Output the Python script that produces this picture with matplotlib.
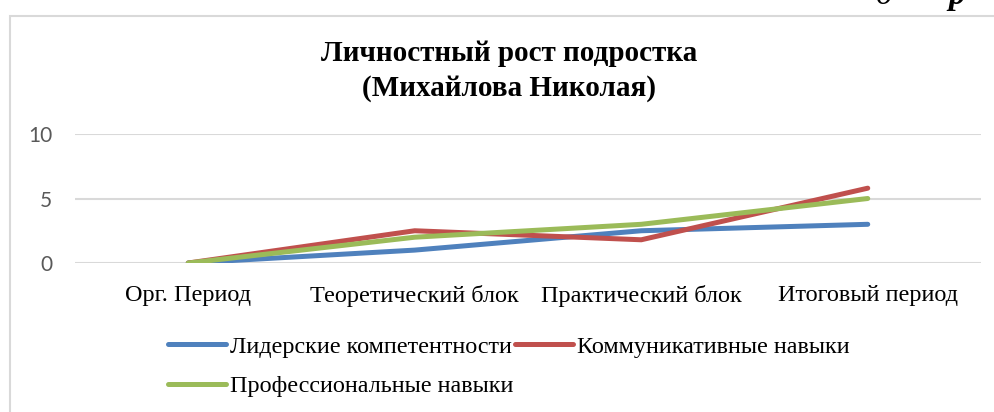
import numpy as np
import matplotlib
matplotlib.use('Agg')
import matplotlib.pyplot as plt
from matplotlib.patches import Rectangle

# данные
kategorii = ['Орг. Период', 'Теоретический блок', 'Практический блок', 'Итоговый период']
liderskie = [0, 1, 2.5, 3]
kommunikativnye = [0, 2.5, 1.8, 5.8]
professionalnye = [0, 2, 3, 5]
serie = ['Лидерские компетентности', 'Коммуникативные навыки', 'Профессиональные навыки']
kolory = ['#4f81bd', '#c0504d', '#9bbb59']
y_ticks = [0, 5, 10]

W, H = 995, 412
fig = plt.figure(figsize=(W/100, H/100), dpi=100)

# ramka wykresu (wychodzi poza prawa i dolna krawedz)
fig.patches.append(Rectangle((10/W, -0.2), 1.5, 1.2 - 16/H, transform=fig.transFigure,
                             fill=False, edgecolor='#d9d9d9', linewidth=1.5, clip_on=False))

ax = fig.add_axes([75/W, 1 - 263/H, 906/W, 129/H])
x = np.arange(len(kategorii))
linie = []
for vals, c, lab in zip([liderskie, kommunikativnye, professionalnye], kolory, serie):
    l, = ax.plot(x, vals, color=c, lw=3.6, solid_capstyle='round', solid_joinstyle='round',
                 label=lab, zorder=3)
    linie.append(l)

ax.set_xlim(-0.5, len(kategorii) - 0.5)
ax.set_ylim(0, 10)
ax.set_yticks(y_ticks)
ax.set_yticklabels([str(t) for t in y_ticks], fontsize=15, color='#595959', family='Lato')
ax.set_xticks(x)
ax.set_xticklabels(kategorii, fontsize=17.5, family='Liberation Serif', color='black')
ax.tick_params(axis='both', length=0)
ax.tick_params(axis='y', pad=16.5)
ax.tick_params(axis='x', pad=16)
ax.grid(axis='y', color='#d9d9d9', lw=1.5, zorder=0)
for s in ax.spines.values():
    s.set_visible(False)

fig.text(509/W, 1 - 71/H, 'Личностный рост подростка\n(Михайлова Николая)', ha='center', va='center',
         fontsize=21, fontweight='bold', family='Liberation Serif', linespacing=1.32)

# kolejnosc jak w Excelu (wierszami)
h = [linie[0], linie[2], linie[1]]
fig.legend(h, [l.get_label() for l in h], loc='upper left', bbox_to_anchor=(168/W, 1 - 336/H),
           ncol=2, frameon=False, prop={'family': 'Liberation Serif', 'size': 17.4},
           handlelength=2.4, handletextpad=0.15, columnspacing=0.1, labelspacing=0.72,
           borderpad=0, borderaxespad=0)

# obciety tekst dokumentu u gory
fig.text(876/W, 1 - 4/H, 'д', fontsize=24, style='italic', family='Liberation Serif', va='baseline')
fig.text(948/W, 1 - 4/H, 'р', fontsize=24, style='italic', fontweight='bold',
         family='Liberation Serif', va='baseline')

fig.savefig('out.png', dpi=100)
